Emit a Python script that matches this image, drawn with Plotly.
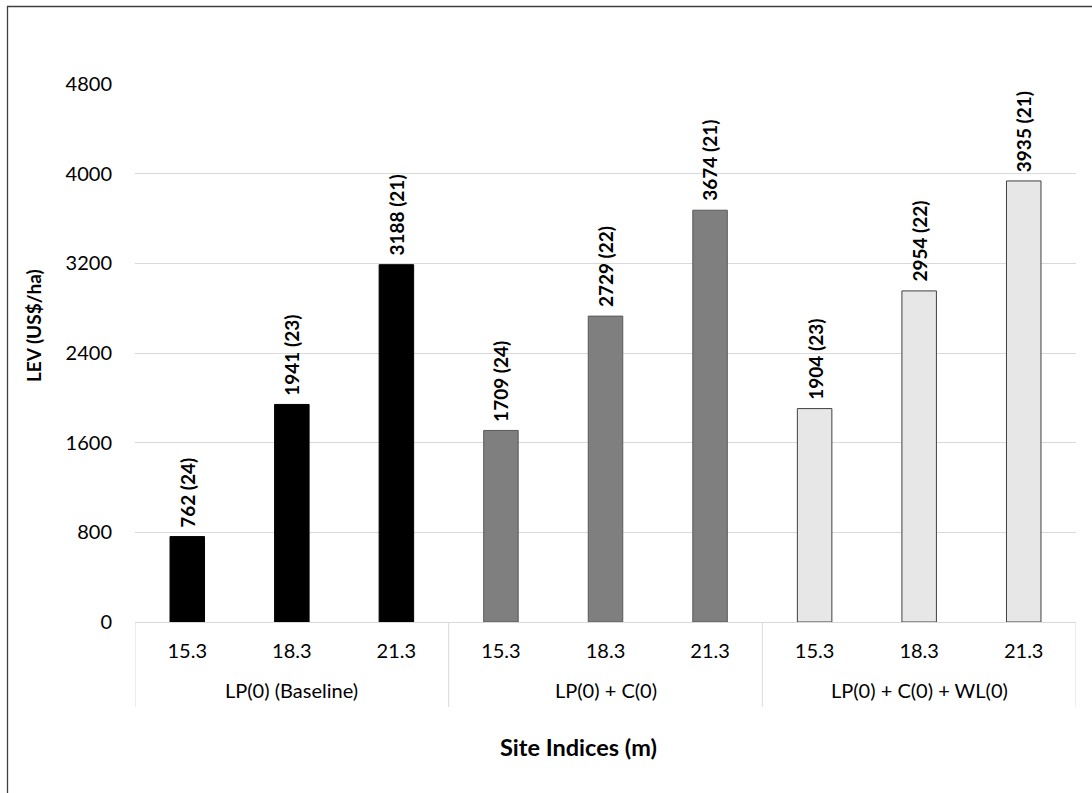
import plotly.graph_objects as go

# Scenario groups and site indices (m)
groups = ["LP(0) (Baseline)", "LP(0) + C(0)", "LP(0) + C(0) + WL(0)"]
site_indices = ["15.3", "18.3", "21.3"]

# LEV (US$/ha) and optimal rotation age (years) per scenario
lev_baseline = [762, 1941, 3188]
lev_carbon = [1709, 2729, 3674]
lev_carbon_wl = [1904, 2954, 3935]
rot_baseline = [24, 23, 21]
rot_carbon = [24, 22, 21]
rot_carbon_wl = [23, 22, 21]

y_ticks = [0, 800, 1600, 2400, 3200, 4000, 4800]

FONT = "Lato, Carlito, Calibri, sans-serif"
N_SITES = len(site_indices)

series = [
    (lev_baseline, rot_baseline, "#000000", "#000000"),
    (lev_carbon, rot_carbon, "#7f7f7f", "#595959"),
    (lev_carbon_wl, rot_carbon_wl, "#e7e7e7", "#404040"),
]

fig = go.Figure()
tick_pos, tick_txt = [], []
for g, (lev, rot, fill, edge) in enumerate(series):
    xs = [g * N_SITES + i for i in range(N_SITES)]
    tick_pos += xs
    tick_txt += site_indices
    fig.add_trace(go.Bar(
        x=xs,
        y=lev,
        width=0.33,
        marker=dict(color=fill, line=dict(color=edge, width=1)),
        showlegend=False,
        hoverinfo="x+y",
    ))
    # value (rotation age) labels above each bar
    for xv, v, r in zip(xs, lev, rot):
        fig.add_annotation(
            x=xv, y=v, xref="x", yref="y",
            text=f"<b>{v} ({r})</b>", textangle=-90,
            xanchor="center", yanchor="bottom", yshift=7,
            showarrow=False,
            font=dict(family=FONT, size=19, color="#000000"),
        )

n_total = len(groups) * N_SITES
fig.update_layout(
    width=1092,
    height=793,
    margin=dict(l=135, r=16, t=84, b=171),
    paper_bgcolor="white",
    plot_bgcolor="white",
    font=dict(family=FONT, size=20, color="#000000"),
    xaxis=dict(
        range=[-0.5, n_total - 0.5],
        tickvals=tick_pos,
        ticktext=tick_txt,
        showline=True,
        linecolor="#d9d9d9",
        linewidth=1,
        ticks="",
        ticklabelstandoff=11,
        showgrid=False,
        zeroline=False,
        tickfont=dict(family=FONT, size=20, color="#000000"),
    ),
    yaxis=dict(
        range=[0, 4800],
        tickvals=y_ticks,
        ticktext=[str(t) for t in y_ticks],
        showgrid=True,
        gridcolor="#d9d9d9",
        gridwidth=1,
        zeroline=False,
        showline=False,
        ticks="",
        ticklabelstandoff=22,
        tickfont=dict(family=FONT, size=20, color="#000000"),
    ),
)

# Group labels and dividers of the two-level category axis
div_bottom = (622 - 707) / 538
for g, name in enumerate(groups):
    fig.add_annotation(
        text=name, xref="x", yref="paper",
        x=g * N_SITES + (N_SITES - 1) / 2, y=(622 - 690) / 538,
        xanchor="center", yanchor="middle",
        showarrow=False, font=dict(family=FONT, size=20, color="#000000"),
    )
for k in range(len(groups) + 1):
    fig.add_shape(
        type="line", xref="x", yref="paper",
        x0=k * N_SITES - 0.5, x1=k * N_SITES - 0.5, y0=0, y1=div_bottom,
        line=dict(color="#d9d9d9", width=1),
    )

# Axis titles
fig.add_annotation(
    text="<b>LEV (US$/ha)</b>", xref="paper", yref="paper",
    x=(33 - 135) / 941, y=(622 - 326) / 538, textangle=-90,
    xanchor="center", yanchor="middle", showarrow=False,
    font=dict(family=FONT, size=19, color="#000000"),
)
fig.add_annotation(
    text="<b>Site Indices (m)</b>", xref="paper", yref="paper",
    x=(578 - 135) / 941, y=(622 - 747) / 538,
    xanchor="center", yanchor="middle", showarrow=False,
    font=dict(family=FONT, size=23.5, color="#000000"),
)

# Chart frame
fig.add_shape(
    type="rect", xref="paper", yref="paper",
    x0=(7.5 - 135) / 941, x1=(1110 - 135) / 941,
    y0=(622 - 810) / 538, y1=(622 - 6.5) / 538,
    line=dict(color="#404040", width=1.3), layer="below",
)

fig.write_html("out.html")
